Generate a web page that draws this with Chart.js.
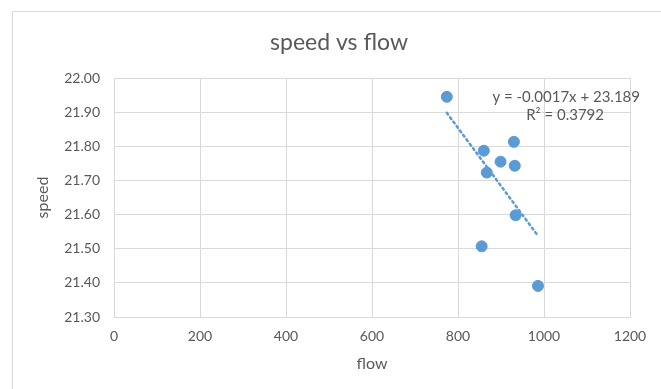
<!DOCTYPE html>
<html>
<head>
<meta charset="utf-8">
<script src="https://cdn.jsdelivr.net/npm/chart.js@4/dist/chart.umd.min.js"></script>
<style>
html,body{margin:0;padding:0;background:#fff;}
#wrap{position:absolute;left:0;top:0;width:661px;height:389px;}
</style>
</head>
<body>
<div id="wrap"><canvas id="c" width="661" height="389"></canvas></div>
<script>
const chartTitle = "speed vs flow";
const xAxisTitle = "flow";
const yAxisTitle = "speed";
const flow  = [774, 860, 930, 899, 932, 867, 934, 855, 986];
const speed = [21.945, 21.787, 21.813, 21.755, 21.743, 21.723, 21.598, 21.507, 21.391];
const xTicks = [0, 200, 400, 600, 800, 1000, 1200];
const yTicks = [21.30, 21.40, 21.50, 21.60, 21.70, 21.80, 21.90, 22.00];
const equationLines = ["y = -0.0017x + 23.189", "R\u00B2 = 0.3792"];

// least-squares trendline computed from the data
const n = flow.length;
const mx = flow.reduce((a,b)=>a+b,0)/n;
const my = speed.reduce((a,b)=>a+b,0)/n;
let sxy=0, sxx=0;
for (let i=0;i<n;i++){ sxy += (flow[i]-mx)*(speed[i]-my); sxx += (flow[i]-mx)**2; }
const slope = sxy/sxx, intercept = my - slope*mx;
const xMin = Math.min(...flow), xMax = Math.max(...flow);
const trend = [{x:xMin, y:intercept+slope*xMin},{x:xMax, y:intercept+slope*xMax}];

const BLUE = "#5b9bd5";
const TXT = "#595959";
const GRID = "#d9d9d9";
const FONT = "Lato, 'Open Sans', sans-serif";

const framePlugin = {
  id: 'frame',
  beforeDraw(chart){
    const ctx = chart.ctx;
    ctx.save();
    ctx.fillStyle = "#fff";
    ctx.fillRect(0,0,chart.width,chart.height);
    ctx.strokeStyle = GRID;
    ctx.lineWidth = 1;
    ctx.strokeRect(12.5, 11.5, chart.width + 10, chart.height + 10);
    ctx.restore();
  },
  afterDatasetsDraw(chart){
    const ctx = chart.ctx;
    const a = chart.chartArea;
    ctx.save();
    ctx.fillStyle = TXT;
    // chart title, centred on the outer chart frame
    ctx.font = "23px " + FONT;
    ctx.textBaseline = "middle";
    ctx.textAlign = "center";
    ctx.fillText(chartTitle, 339, a.top - 35);
    // trendline label
    ctx.font = "15px " + FONT;
    ctx.textAlign = "right";
    ctx.fillText(equationLines[0], a.right + 10, a.top + 19);
    ctx.fillText(equationLines[1], a.right - 26, a.top + 37);
    ctx.restore();
  }
};

new Chart(document.getElementById('c'), {
  type: 'scatter',
  data: {
    datasets: [
      {
        label: 'speed',
        data: flow.map((x,i)=>({x:x, y:speed[i]})),
        backgroundColor: BLUE,
        borderColor: BLUE,
        pointRadius: 5.5,
        pointHoverRadius: 5.5,
        order: 1
      },
      {
        label: 'trend',
        type: 'line',
        data: trend,
        borderColor: BLUE,
        borderWidth: 2.5,
        borderDash: [2, 3.5],
        borderCapStyle: 'round',
        pointRadius: 0,
        fill: false,
        order: 2
      }
    ]
  },
  options: {
    responsive: false,
    animation: false,
    devicePixelRatio: 1,
    layout: { padding: { left: 33, right: 31, top: 78, bottom: 16 } },
    plugins: {
      legend: { display: false },
      tooltip: { enabled: false },
      title: { display: false }
    },
    scales: {
      x: {
        type: 'linear',
        min: 0, max: 1200,
        afterBuildTicks(s){ s.ticks = xTicks.map(v=>({value:v})); },
        afterFit(s){ s.height = 56; },
        grid: { color: GRID, drawTicks: false },
        border: { color: GRID },
        ticks: { color: TXT, font: { family: FONT, size: 14 }, padding: 11, maxRotation: 0, callback: v => String(v) },
        title: { display: true, text: xAxisTitle, color: TXT, font: { family: FONT, size: 16 }, padding: 0 }
      },
      y: {
        type: 'linear',
        min: 21.3, max: 22.0,
        afterBuildTicks(s){ s.ticks = yTicks.map(v=>({value:v})); },
        afterFit(s){ s.width = 81; },
        grid: { color: GRID, drawTicks: false },
        border: { color: GRID },
        ticks: { color: TXT, font: { family: FONT, size: 14 }, padding: 14, callback: v => Number(v).toFixed(2) },
        title: { display: true, text: yAxisTitle, color: TXT, font: { family: FONT, size: 16 }, padding: 0 }
      }
    }
  },
  plugins: [framePlugin]
});
</script>
</body>
</html>
